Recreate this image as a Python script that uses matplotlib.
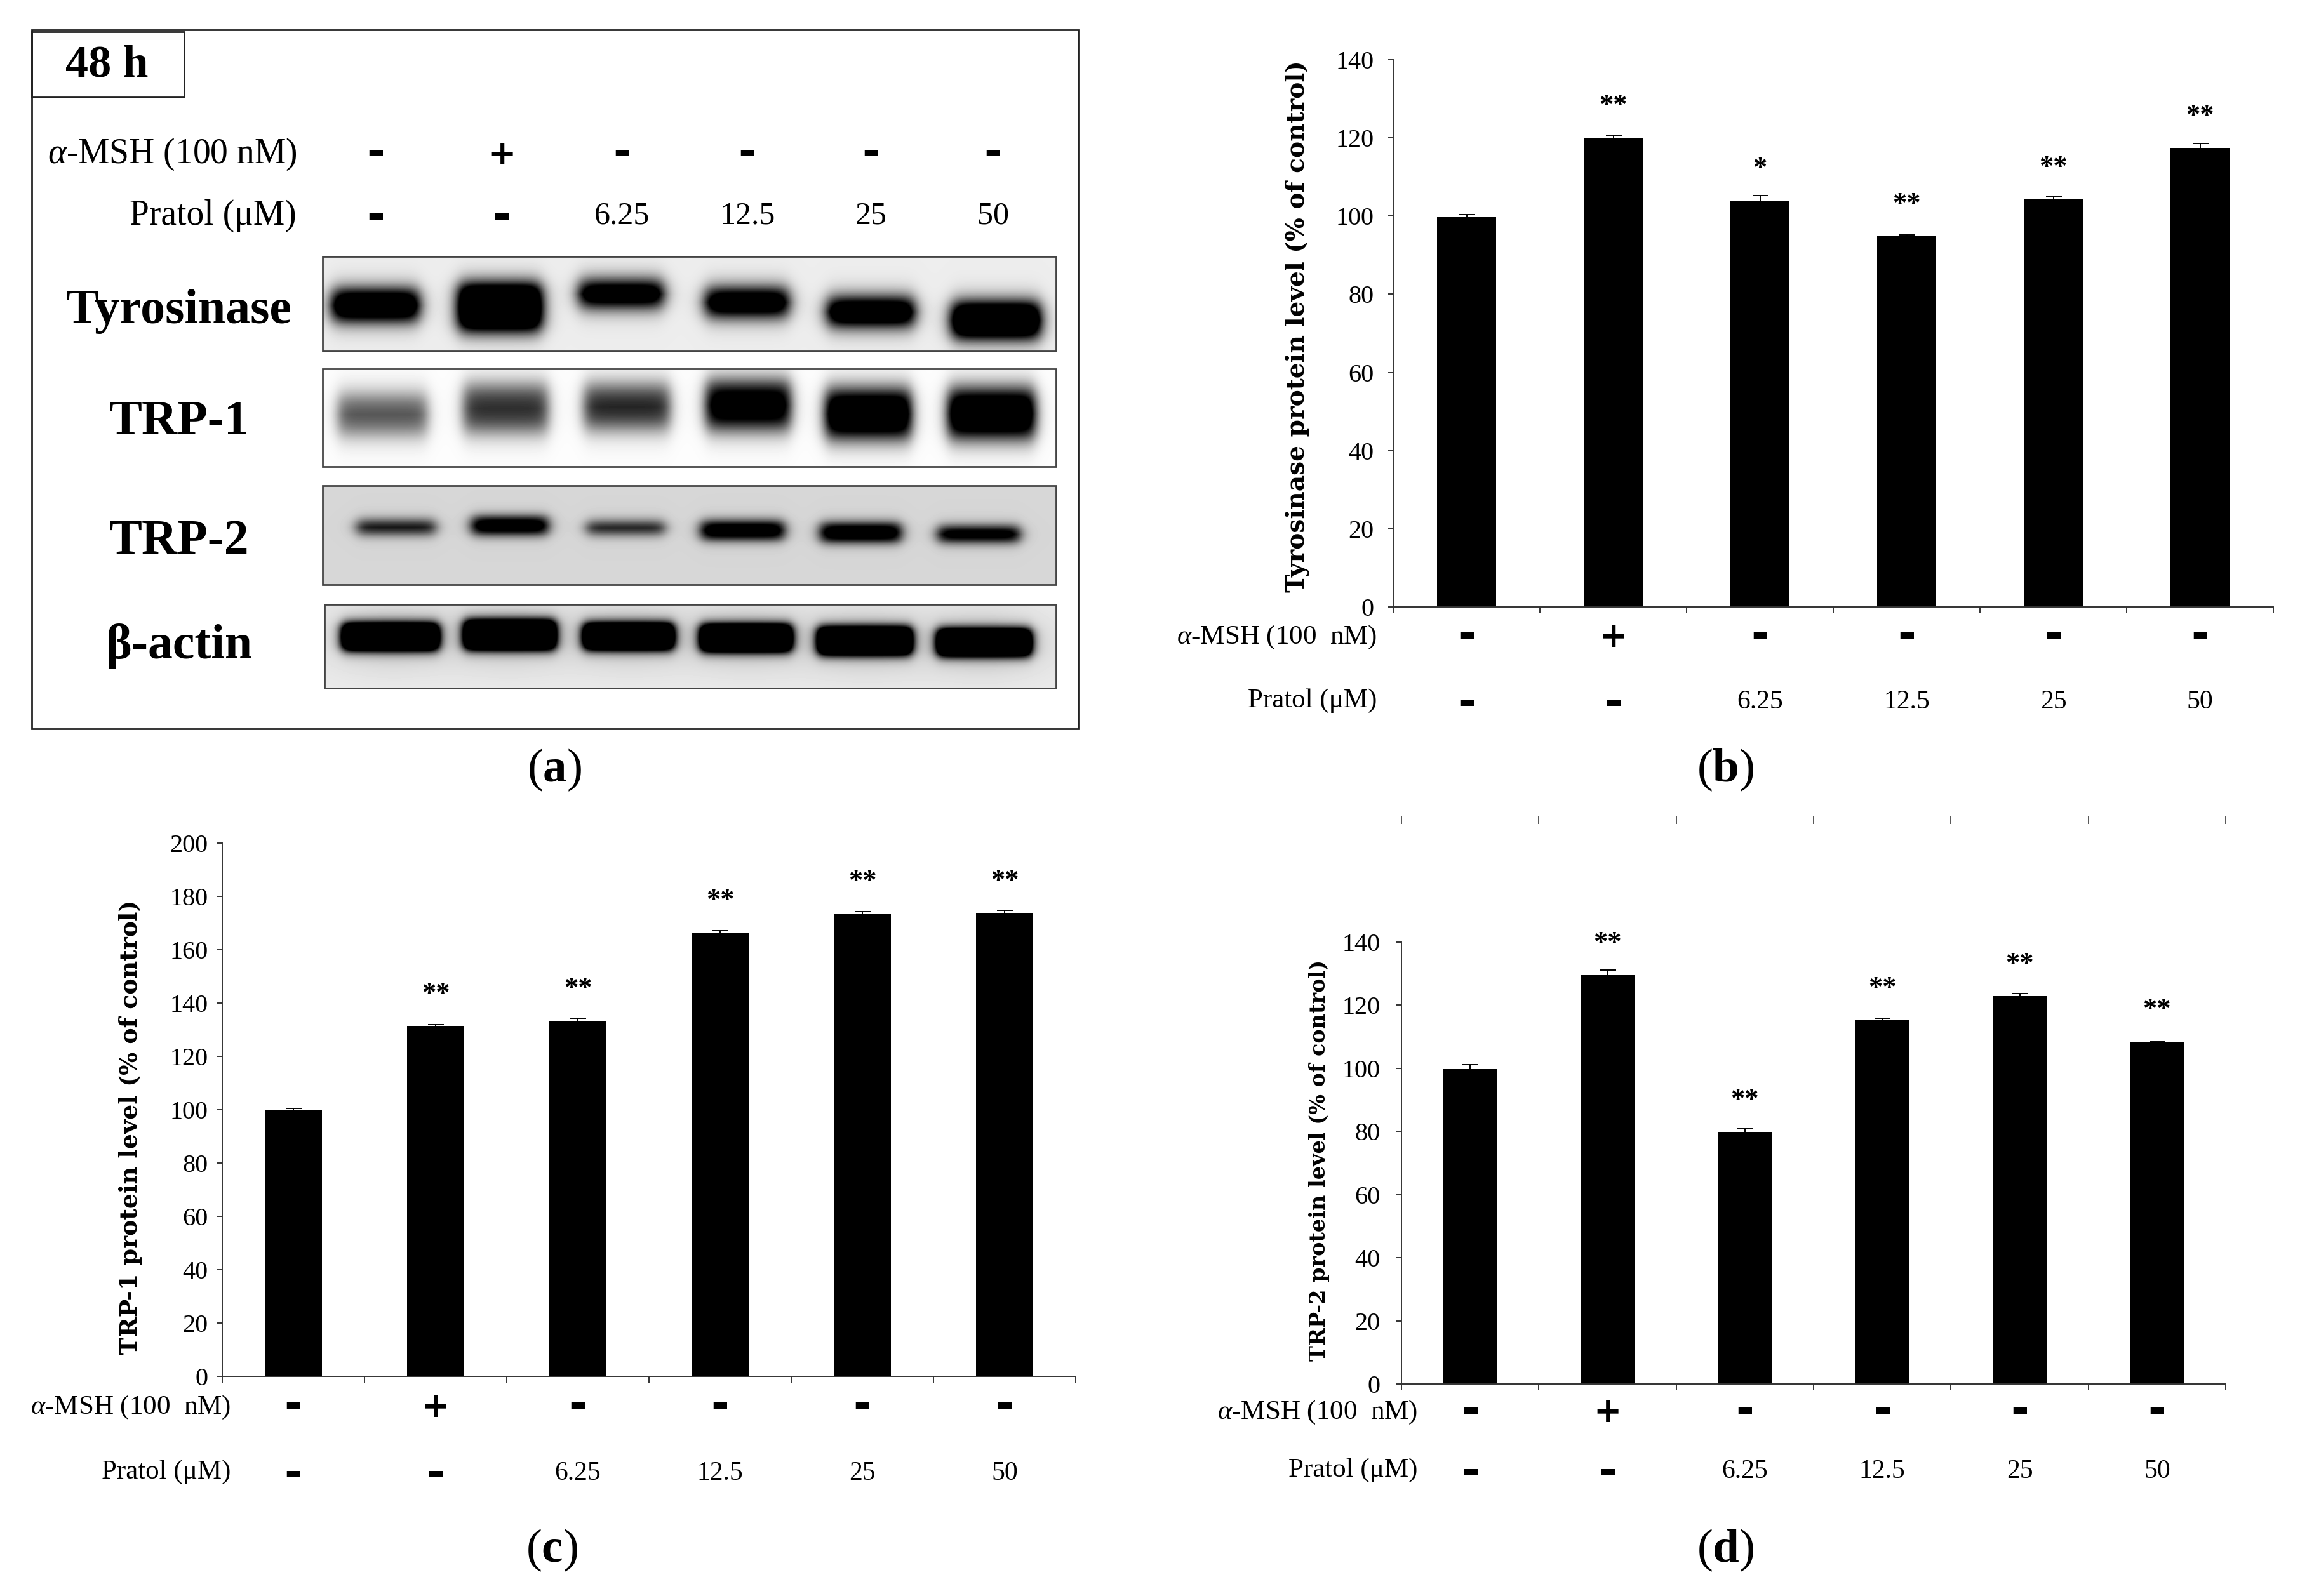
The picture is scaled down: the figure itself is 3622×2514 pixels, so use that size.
import numpy as np
import matplotlib
matplotlib.use('Agg')
import matplotlib.pyplot as plt
from matplotlib import transforms
from matplotlib.patches import Rectangle

W, H = 3622, 2514
plt.rcParams['font.family'] = ['Liberation Serif', 'DejaVu Serif']
plt.rcParams['mathtext.fontset'] = 'custom'
plt.rcParams['mathtext.rm'] = 'Liberation Serif'
plt.rcParams['mathtext.it'] = 'Liberation Serif:italic'
plt.rcParams['mathtext.bf'] = 'Liberation Serif:bold'

# ---------------- data ----------------
msh = ['-', '+', '-', '-', '-', '-']
pratol = ['-', '-', '6.25', '12.5', '25', '50']

tyr_mean = [99.7, 120.1, 104.0, 94.9, 104.3, 117.4]
tyr_err = [0.7, 0.5, 1.3, 0.3, 0.6, 1.1]
tyr_sig = ['', '**', '*', '**', '**', '**']

trp1_mean = [99.7, 131.5, 133.3, 166.4, 173.5, 173.9]
trp1_err = [0.8, 0.4, 0.9, 0.8, 0.8, 0.8]
trp1_sig = ['', '**', '**', '**', '**', '**']

trp2_mean = [99.7, 129.5, 79.8, 115.2, 123.0, 108.4]
trp2_err = [1.4, 1.6, 1.0, 0.7, 0.8, 0.1]
trp2_sig = ['', '**', '**', '**', '**', '**']

blot_names = ['Tyrosinase', 'TRP-1', 'TRP-2', 'β-actin']
# band darkness per lane (>1 means saturated core)
tyr_band = [1.7, 1.9, 1.6, 1.6, 1.7, 1.9]
trp1_band = [0.7, 0.85, 0.9, 1.3, 1.5, 1.5]
trp2_band = [1.0, 1.4, 0.95, 1.4, 1.4, 1.3]
actin_band = [2.2, 2.2, 2.2, 2.2, 2.2, 2.2]

# ---------------- layout (pixels) ----------------
lane_x = [592, 790, 980, 1177, 1372, 1564]
strip_layout = {
    'Tyrosinase': dict(box=(508, 404, 1663, 553), bg=0.93, soft=(7, 9), halo=0.0,
                       bands=[(516, 667, 450, 512), (715, 860, 440, 528), (905, 1052, 436, 490),
                              (1104, 1249, 448, 505), (1296, 1447, 463, 520), (1492, 1645, 470, 539)]),
    'TRP-1': dict(box=(508, 581, 1663, 735), bg=0.99, soft=(6, 11), halo=0.0,
                  bands=[(526, 679, 613, 693), (724, 869, 598, 689), (914, 1061, 598, 684),
                         (1106, 1251, 593, 684), (1294, 1441, 606, 698), (1487, 1636, 605, 698)]),
    'TRP-2': dict(box=(508, 765, 1663, 921), bg=0.84, soft=(6, 5), halo=0.0,
                  bands=[(556, 692, 815, 846), (737, 869, 810, 846), (918, 1053, 817, 846),
                         (1098, 1241, 817, 854), (1286, 1425, 820, 858), (1471, 1612, 825, 858)]),
    'β-actin': dict(box=(511, 952, 1663, 1084), bg=0.92, soft=(5, 5), halo=0.15,
                    bands=[(534, 696, 978, 1028), (726, 880, 973, 1027), (914, 1066, 978, 1027),
                           (1098, 1252, 980, 1030), (1283, 1441, 984, 1035), (1471, 1629, 987, 1037)]),
}
strip_label_y = {'Tyrosinase': 490, 'TRP-1': 666, 'TRP-2': 853, 'β-actin': 1018}
band_dark = {'Tyrosinase': tyr_band, 'TRP-1': trp1_band, 'TRP-2': trp2_band, 'β-actin': actin_band}

fig = plt.figure(figsize=(W / 100, H / 100), dpi=100)
ax0 = fig.add_axes([0, 0, 1, 1])
ax0.set_xlim(0, W)
ax0.set_ylim(H, 0)
ax0.axis('off')


def dash(ax, x, y, s, trans=None, big=False):
    # '-' and '+' marks drawn as bold sans glyphs, centred on (x, y) in pixels
    trans = trans if trans is not None else ax.transData
    if s == '-':
        fs = 50
        off = 0.30 * fs * 100 / 72
        ax.text(x, y + off, '-', ha='center', va='baseline', fontsize=fs,
                family='DejaVu Sans', fontweight='bold', transform=trans)
    elif s == '+':
        fs = 38
        off = 0.36 * fs * 100 / 72
        ax.text(x, y + off, '+', ha='center', va='baseline', fontsize=fs,
                family='DejaVu Sans', fontweight='bold', transform=trans)
    else:
        ax.text(x, y, s, ha='center', va='center', fontsize=36 if big else 30, transform=trans)


# ---------------- panel (a): western blot ----------------
ax0.add_patch(Rectangle((50, 47), 1648, 1101, fill=False, lw=2.0, ec='#222222'))
ax0.add_patch(Rectangle((50, 50), 240, 103, fill=False, lw=2.0, ec='#222222'))
ax0.text(168, 103, '48 h', ha='center', va='center', fontsize=52, fontweight='bold')
ax0.text(467, 243, r'$\alpha$-MSH (100 nM)', ha='right', va='center', fontsize=40)
ax0.text(467, 340, 'Pratol (μM)', ha='right', va='center', fontsize=40)
for xl, m, p in zip(lane_x, msh, pratol):
    dash(ax0, xl, 240, m)
    dash(ax0, xl, 340, p, big=True)

for name in blot_names:
    lay = strip_layout[name]
    x0, y0, x1, y1 = lay['box']
    xx, yy = np.meshgrid(np.arange(x0, x1) + 0.5, np.arange(y0, y1) + 0.5)
    dens = np.zeros_like(xx)
    sx, sy = lay['soft']
    for (bx0, bx1, by0, by1), d in zip(lay['bands'], band_dark[name]):
        cx, cy = (bx0 + bx1) / 2, (by0 + by1) / 2
        hw, hh = (bx1 - bx0) / 2 - sx, (by1 - by0) / 2 - sy
        px = 1 / (1 + np.exp((np.abs(xx - cx) - hw) / sx))
        py = 1 / (1 + np.exp((np.abs(yy - cy) - hh) / sy))
        dens += d * px * py
        if lay['halo'] > 0:
            gx = np.exp(-((xx - cx) / (hw + 25)) ** 2)
            gy = np.exp(-((yy - cy) / (hh + 30)) ** 2)
            dens += lay['halo'] * gx * gy
    img = lay['bg'] * (1 - np.clip(dens, 0, 1))
    ax0.imshow(img, extent=(x0, x1, y1, y0), cmap='gray', vmin=0, vmax=1,
               aspect='auto', interpolation='bilinear', zorder=1)
    ax0.add_patch(Rectangle((x0, y0), x1 - x0, y1 - y0, fill=False, lw=2.0, ec='#444444', zorder=2))
    ax0.text(282, strip_label_y[name], name, ha='center', va='center', fontsize=56, fontweight='bold')
ax0.set_xlim(0, W)
ax0.set_ylim(H, 0)

renderer = fig.canvas.get_renderer()


def fit_len(t, target):
    bb = t.get_window_extent(renderer=renderer)
    size = max(bb.width, bb.height)
    t.set_fontsize(t.get_fontsize() * target / size)


# ---------------- bar panels ----------------
def bar_panel(box, ymax, mean, err, sig, ylabel, ylab_xy, ylab_len, rows_y, row_right, bar_w, pad):
    l, t, r, b = box
    ax = fig.add_axes([l / W, 1 - b / H, (r - l) / W, (b - t) / H])
    x = np.arange(len(mean)) + 0.5
    ax.bar(x, mean, width=bar_w, color='black', zorder=2)
    ax.errorbar(x, mean, yerr=err, fmt='none', ecolor='black', elinewidth=1.4,
                capsize=9, capthick=1.4, zorder=3)
    ax.set_xlim(0, 6)
    ax.set_ylim(0, ymax)
    ax.set_yticks(np.arange(0, ymax + 1, 20))
    ax.set_xticks(np.arange(7))
    ax.tick_params(axis='x', direction='out', length=7, width=1.4, labelbottom=False, color='#333333')
    ax.tick_params(axis='y', direction='out', length=6, width=1.4, labelsize=29, pad=pad, color='#333333')
    for s in ['top', 'right']:
        ax.spines[s].set_visible(False)
    for s in ['left', 'bottom']:
        ax.spines[s].set_linewidth(1.4)
        ax.spines[s].set_color('#333333')
    ppu = (b - t) / ymax
    for xi, m, s in zip(x, mean, sig):
        if s:
            ax.text(xi, m + 50 / ppu, s, ha='center', va='center', fontsize=32, fontweight='bold')
    yl = ax0.text(ylab_xy[0], ylab_xy[1], ylabel, rotation=90, ha='center', va='center',
                  fontsize=26, family='DejaVu Serif', fontweight='bold')
    fit_len(yl, ylab_len)
    tr = transforms.blended_transform_factory(ax.transData, ax0.transData)
    ax0.text(row_right, rows_y[0] + 4, r'$\alpha$-MSH (100  nM)', ha='right', va='center', fontsize=31)
    ax0.text(row_right, rows_y[1] - 2, 'Pratol (μM)', ha='right', va='center', fontsize=31)
    for xi, m, p in zip(x, msh, pratol):
        dash(ax0, xi, rows_y[0], m, trans=tr)
        dash(ax0, xi, rows_y[1], p, trans=tr)
    return ax


bar_panel((2194, 94, 3580, 956), 140, tyr_mean, tyr_err, tyr_sig,
          'Tyrosinase protein level (% of control)', (2043, 514), 839,
          (1000, 1106), 2168, 0.40, 16)
bar_panel((350, 1328, 1694, 2168), 200, trp1_mean, trp1_err, trp1_sig,
          'TRP-1 protein level (% of control)', (206, 1776), 718,
          (2213, 2321), 363, 0.40, 10)
ax_d = bar_panel((2207, 1484, 3505, 2180), 140, trp2_mean, trp2_err, trp2_sig,
                 'TRP-2 protein level (% of control)', (2077, 1828), 633,
                 (2221, 2318), 2232, 0.39, 18)

# stray category ticks above panel (d)
ax_t = fig.add_axes([2207 / W, 1 - 1298 / H, 1298 / W, 12 / H])
ax_t.set_xlim(0, 6)
ax_t.set_ylim(0, 1)
ax_t.axis('off')
ax_t.vlines(np.arange(7), 0, 1, color='#555555', lw=1.4, clip_on=False)

# panel letters
for lab, (px, py) in zip('abcd', [(873, 1213), (2717, 1213), (869, 2442), (2717, 2442)]):
    ax0.text(px, py, '($\\mathbf{' + lab + '}$)', ha='center', va='center', fontsize=54)

fig.savefig('out.png', dpi=100, facecolor='white')
